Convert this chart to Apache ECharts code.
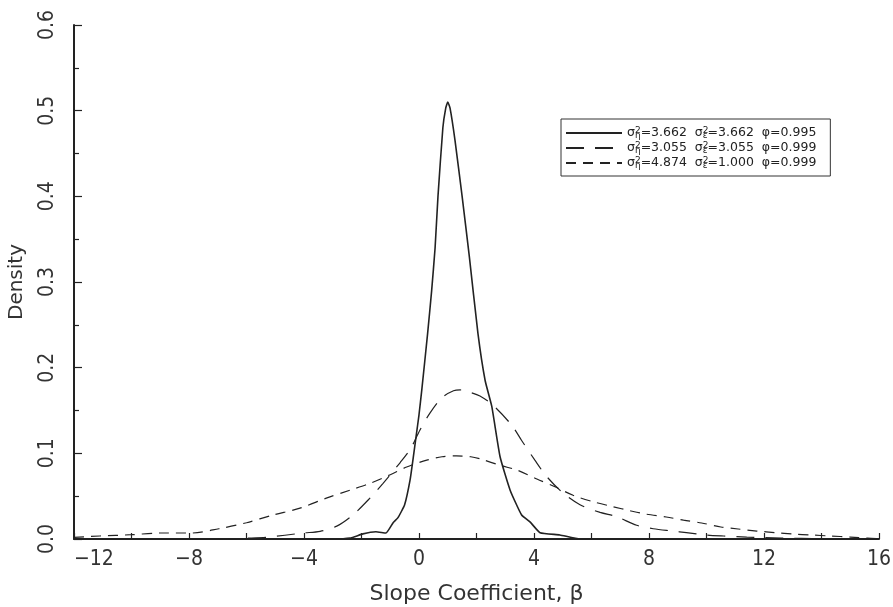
<!DOCTYPE html>
<html>
<head>
<meta charset="utf-8">
<script src="https://cdn.jsdelivr.net/npm/echarts@6/dist/echarts.min.js"></script>
<style>
  html, body { margin: 0; padding: 0; background: #fff; }
  #chart { width: 893px; height: 607px; }
</style>
</head>
<body>
<div id="chart"></div>
<script>
// parameters shown in the legend
var etaVar = ['3.662', '3.055', '4.874'];
var epsVar = ['3.662', '3.055', '1.000'];
var phiVal = ['0.995', '0.999', '0.999'];

// solid curve
var betaA = [-12, -3, -2.4, -1.95, -1.5, -1.15, -0.9, -0.73, -0.5, -0.31, -0.2, -0.1, 0.0, 0.1, 0.3, 0.44, 0.56, 0.66, 0.83, 0.93, 1.0, 1.08, 1.25, 1.5, 1.75, 2.05, 2.3, 2.53, 2.82, 3.17, 3.57, 3.86, 4.21, 4.9, 5.6, 16];
var densA = [0, 0, 0.001, 0.006, 0.0085, 0.007, 0.019, 0.025, 0.04, 0.069, 0.095, 0.12, 0.145, 0.175, 0.24, 0.29, 0.34, 0.40, 0.48, 0.503, 0.51, 0.503, 0.466, 0.40, 0.33, 0.24, 0.185, 0.155, 0.096, 0.057, 0.028, 0.02, 0.0074, 0.0047, 0, 0];

// long dashes
var betaB = [-12, -7, -6, -5.3, -4.03, -3.44, -2.86, -2.3, -1.7, -1.25, -0.66, -0.3, 0.03, 0.38, 0.8, 1.2, 1.43, 1.8, 2.12, 2.58, 3.22, 3.57, 4.03, 4.44, 5.0, 5.6, 6.3, 6.88, 7.57, 8.15, 8.83, 9.3, 10.0, 10.6, 11.4, 12.6, 14, 16];
var densB = [0, 0, 0.001, 0.002, 0.007, 0.009, 0.015, 0.028, 0.048, 0.065, 0.089, 0.105, 0.127, 0.147, 0.165, 0.173, 0.174, 0.171, 0.167, 0.156, 0.133, 0.115, 0.092, 0.073, 0.054, 0.040, 0.031, 0.026, 0.016, 0.012, 0.0093, 0.0074, 0.0047, 0.0035, 0.0023, 0.001, 0.0005, 0];

// short dashes
var betaC = [-12, -11.1, -10, -9, -7.9, -6.96, -6.0, -5.08, -4.14, -3.2, -2.4, -1.7, -1.0, -0.43, 0.27, 0.8, 1.3, 1.8, 2.18, 2.82, 3.45, 4.1, 4.73, 5.36, 6.06, 6.75, 7.34, 7.9, 8.6, 9.2, 9.83, 10.5, 11.1, 11.75, 12.4, 13.0, 13.66, 14.3, 15.0, 15.6, 16];
var densC = [0.002, 0.0035, 0.005, 0.007, 0.007, 0.012, 0.019, 0.028, 0.036, 0.048, 0.057, 0.065, 0.075, 0.084, 0.092, 0.096, 0.097, 0.096, 0.093, 0.086, 0.080, 0.070, 0.061, 0.051, 0.0435, 0.0377, 0.033, 0.029, 0.0257, 0.022, 0.0187, 0.014, 0.0117, 0.0093, 0.0074, 0.0058, 0.0047, 0.0035, 0.0023, 0.001, 0.0005];

function pairs(xs, ys) {
    var out = [];
    for (var i = 0; i < xs.length; i++) out.push([xs[i], ys[i]]);
    return out;
}

var names = [];
for (var k = 0; k < 3; k++) {
    names.push('σ²η=' + etaVar[k] + ' σ²ε=' + epsVar[k] + ' φ=' + phiVal[k]);
}

var ink = '#222';
var font = 'DejaVu Sans';
var tickFont = "'Liberation Sans Narrow', 'DejaVu Sans Condensed', 'DejaVu Sans'";

var chart = echarts.init(document.getElementById('chart'));
chart.setOption({
    animation: false,
    backgroundColor: '#fff',
    grid: { left: 74, right: 14, top: 25, bottom: 68, containLabel: false, outerBoundsMode: 'none' },
    legend: {
        orient: 'vertical',
        left: 561,
        top: 119,
        padding: [7, 14, 6, 4],
        itemGap: 1,
        itemWidth: 56,
        itemHeight: 10,
        borderColor: '#333',
        borderWidth: 1,
        itemStyle: { opacity: 0 },
        data: names,
        formatter: function (name) {
            var k = names.indexOf(name);
            return '{s|σ}{sup|2}{sub|η}{t|=' + etaVar[k] + '  }{s|σ}{sup|2}{sub|ε}{t|=' + epsVar[k] + '  φ=' + phiVal[k] + '}';
        },
        textStyle: {
            fontFamily: font,
            color: ink,
            rich: {
                s: { fontFamily: font, fontSize: 12.5, lineHeight: 14, color: ink },
                t: { fontFamily: font, fontSize: 12.5, lineHeight: 14, color: ink },
                sup: { fontFamily: font, fontSize: 9, lineHeight: 8, verticalAlign: 'top', width: 0, color: ink },
                sub: { fontFamily: font, fontSize: 9, lineHeight: 8, verticalAlign: 'bottom', color: ink }
            }
        }
    },
    xAxis: {
        type: 'value',
        min: -12,
        max: 16,
        interval: 4,
        name: 'Slope Coefficient, β',
        nameLocation: 'middle',
        nameGap: 44,
        nameTextStyle: { fontFamily: 'DejaVu Sans', fontSize: 22, color: '#333' },
        axisLine: { onZero: false, lineStyle: { color: ink, width: 2 } },
        axisTick: { inside: true, length: 6, lineStyle: { color: ink, width: 1.2 } },
        minorTick: { show: true, splitNumber: 2, length: 6, lineStyle: { color: ink, width: 1.2 } },
        splitLine: { show: false },
        axisLabel: {
            fontFamily: tickFont, fontSize: 21, color: '#333', margin: 10,
            alignMinLabel: 'left',
            formatter: function (v) { return String(v).replace('-', '−'); }
        }
    },
    yAxis: {
        type: 'value',
        min: 0,
        max: 0.6,
        interval: 0.1,
        name: 'Density',
        nameLocation: 'middle',
        nameRotate: 90,
        nameGap: 47,
        nameTextStyle: { fontFamily: 'DejaVu Sans', fontSize: 20, color: '#333' },
        axisLine: { show: true, onZero: false, lineStyle: { color: ink, width: 2 } },
        axisTick: { show: true, inside: true, length: 8, lineStyle: { color: ink, width: 1.2 } },
        minorTick: { show: true, splitNumber: 2, length: 5, lineStyle: { color: ink, width: 1.2 } },
        splitLine: { show: false },
        axisLabel: {
            fontFamily: tickFont, fontSize: 21, color: '#333', rotate: 90, margin: 16,
            formatter: function (v) { return v.toFixed(1); }
        }
    },
    series: [
        {
            name: names[0], type: 'line', showSymbol: false, symbol: 'none', smooth: 0.15,
            lineStyle: { color: ink, width: 1.6, type: 'solid' },
            itemStyle: { color: ink },
            data: pairs(betaA, densA)
        },
        {
            name: names[1], type: 'line', showSymbol: false, symbol: 'none', smooth: 0.3,
            lineStyle: { color: ink, width: 1.2, type: [18, 11] },
            itemStyle: { color: ink },
            data: pairs(betaB, densB)
        },
        {
            name: names[2], type: 'line', showSymbol: false, symbol: 'none', smooth: 0.3,
            lineStyle: { color: ink, width: 1.2, type: [10, 7] },
            itemStyle: { color: ink },
            data: pairs(betaC, densC)
        }
    ]
});
</script>
</body>
</html>
